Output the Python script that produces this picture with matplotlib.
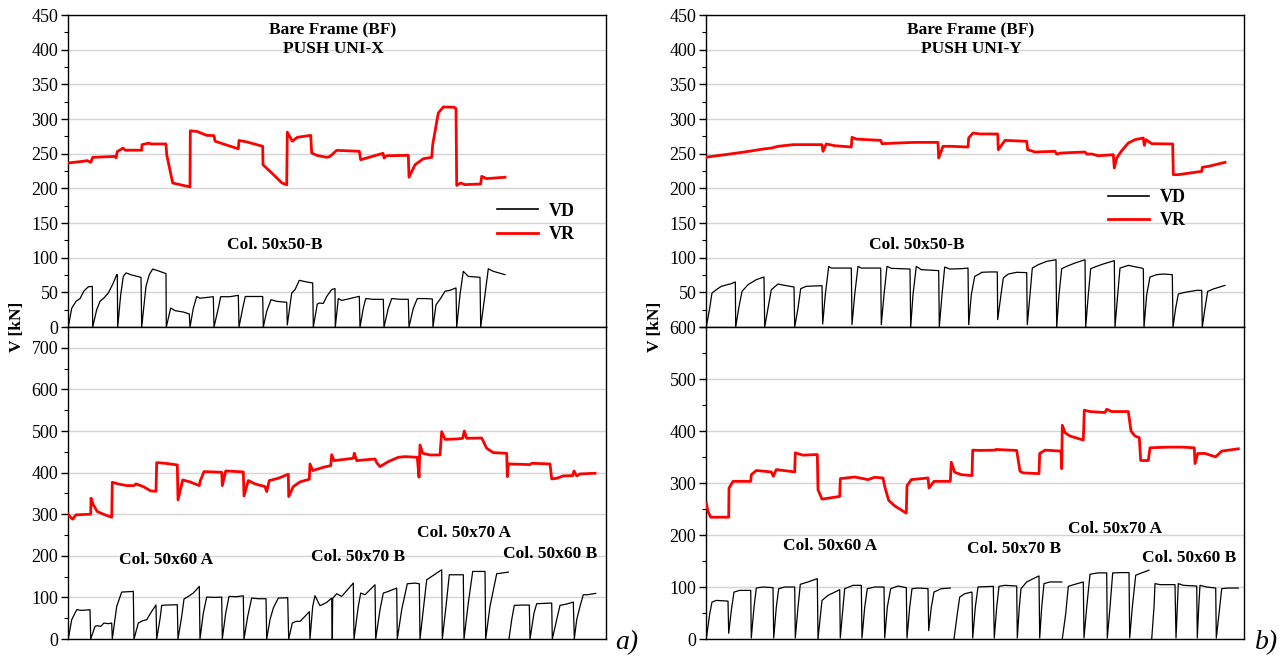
#!/usr/bin/env python3
"""
Shear demand (VD) vs shear capacity (VR) of the columns of the bare frame,
pushover along X (a) and Y (b). Writes out.png.
"""

from __future__ import annotations

import matplotlib

matplotlib.use("Agg")
import matplotlib.pyplot as plt
import numpy as np
from matplotlib.lines import Line2D
from matplotlib.ticker import FuncFormatter, MultipleLocator

NaN = float("nan")

# (step, kN) pairs.
# ---- a) PUSH UNI-X, upper plot (Col. 50x50-B)
VR_X_TOP = [
    (0, 236.5), (15, 239), (19, 240), (22.7, 237.5), (24.7, 244.7), (47, 246), (48, 244),
    (49.3, 253), (55, 258), (57.3, 255), (73.7, 255), (74, 263), (80.3, 265), (83.7, 264),
    (98, 264), (98.7, 248.5), (104.7, 207.7), (122, 202), (122.3, 283), (129, 282),
    (138.7, 276.4), (146, 276), (147, 268), (155.3, 264), (170.3, 257), (171, 269),
    (178.7, 267), (194.7, 260.6), (195, 234), (205.3, 220), (213.7, 208), (218.7, 205),
    (219.3, 281), (224.3, 268), (229.3, 273.6), (242.7, 276.4), (243.7, 251), (248.7, 247.6),
    (258.7, 244.7), (262, 246), (268.7, 254.8), (291.3, 253.4), (292.7, 241.3), (315, 250.5),
    (316, 243.8), (318.7, 247), (340.3, 247.6), (341, 216), (347, 234), (355.3, 242.7),
    (363.7, 244.7), (364.7, 263), (370.3, 308.7), (375.3, 317.3), (386, 317), (388, 315),
    (388.7, 204.3), (392.7, 207.7), (397, 205.3), (412.7, 206.3), (413.7, 217.3),
    (418.7, 214), (437, 216),
]
VD_X_TOP = [
    (0.3, 0), (3.7, 27), (8, 37), (12, 41), (16, 52), (20.3, 58), (24.3, 58.6), (24.7, 0),
    (28.7, 25), (32, 37), (36, 42), (40.3, 49), (45.3, 63.5), (48.7, 75.5), (49.3, 75.5), (49.7, 0),
    (52.7, 46.6), (55.3, 73), (58, 78), (63.7, 75), (73, 71.6), (73.7, 0),
    (78, 58.7), (81.3, 75.5), (84.7, 83.6), (90.3, 81), (98, 77), (98.3, 0),
    (102.7, 27.4), (107, 23.6), (115.3, 21.6), (121.3, 18.8), (122, 0),
    (125.3, 27), (128.7, 44), (132, 41.5), (145.3, 43.7), (146, 0),
    (150.3, 27), (152.7, 43.7), (162, 43.7), (170.3, 45.7), (171, 0),
    (174.7, 27), (177.3, 44), (194.7, 44), (195.3, 0),
    (198.7, 22.6), (203, 39.4), (208.7, 37), (218.7, 35.6), (219.3, 3),
    (223.7, 49), (227, 53.8), (231.3, 67.3), (238.7, 65), (244.7, 63.5), (245.3, 0),
    (249.3, 33), (251.3, 34.6), (255.3, 34), (258.7, 44), (263.7, 54), (267, 55.5), (267.3, 0),
    (270.3, 41), (273.7, 38.4), (278.7, 39.9), (291.3, 44.2), (292, 0),
    (295.3, 27), (297.7, 41), (305.3, 39.9), (315.3, 39.9), (316, 0),
    (320.3, 27), (323.7, 41), (332, 40), (340.3, 39.9), (341, 0),
    (345.3, 27), (349.3, 41), (357, 41), (364.3, 40.5), (365, 0),
    (368, 32), (372, 39.9), (377, 51.5), (382, 53), (388, 56.3), (388.7, 0),
    (392, 46.6), (395.3, 80.3), (400.3, 73), (412, 71.6), (412.7, 0),
    (417, 46.6), (420.3, 84), (425.3, 80.3), (437, 75.5),
]

# ---- a) PUSH UNI-X, lower plot (Col. 50x60 A / 50x70 B / 50x70 A / 50x60 B)
VR_X_BOT = [
    (0.3, 300), (2.7, 292), (4.7, 288), (8, 298.4), (22.7, 300), (23, 338.4), (25.3, 322.4),
    (29.3, 306.4), (37, 298.4), (43.7, 292.8), (44.3, 376.8), (50, 372.8), (58.7, 368.8),
    (66, 368.8), (68, 372.8), (75.3, 366.4), (82.7, 356), (88, 355), (88.7, 424),
    (97, 422.4), (109.3, 418.4), (110, 334.4), (114.7, 382.4), (122, 377.6), (131.3, 368.8),
    (132, 378.4), (136, 402.4), (153.7, 400.8), (154.3, 368.8), (157.7, 404), (175.3, 401.6),
    (176, 344), (180.3, 380.8), (187, 372.8), (197, 366.4), (198.7, 354.4), (201.3, 380.8),
    (210.3, 386.4), (220.3, 396), (220.7, 342.4), (225.3, 366.4), (232, 377.6), (241.3, 384),
    (242, 420.8), (244.7, 404.8), (255.3, 412.8), (262.7, 416.8), (263.7, 443.2), (266, 428.8),
    (285.3, 434.4), (286.3, 446.4), (288.7, 428.8), (307, 432.8), (308.7, 424), (312, 414.4),
    (320.3, 426.4), (330.3, 436.8), (337, 438.4), (349.3, 436.8), (351, 388.8), (352, 466.4),
    (354.7, 446.4), (362, 442.4), (372, 442.4), (373.7, 498.4), (377, 480), (388.7, 480.8),
    (394.7, 482.4), (396.3, 500), (398.7, 482.4), (413.7, 483.2), (418.7, 458.4),
    (425.3, 448), (438.7, 446.4), (439.3, 390.4), (440.3, 420.8), (462, 419.2),
    (463.7, 422.4), (482, 420.8), (483.7, 384.8), (488.7, 386.4), (495.3, 392), (504.7, 392.8),
    (506, 404), (508.7, 392), (512, 396.8), (527, 398.4),
]
VD_X_BOT = [
    (0.3, 0), (3.7, 46.4), (8.7, 70.4), (13.7, 68.8), (22, 70.4), (22.7, 0),
    (27, 30.4), (29.3, 32), (32.7, 30.4), (36, 38.4), (40.3, 36.8), (43.7, 38.4), (44.3, 0),
    (48.7, 78.4), (53.7, 112.8), (65.3, 114.4), (66, 0),
    (70.3, 38.4), (74.7, 44), (78.7, 46.4), (83.7, 66.4), (88, 81.6), (88.7, 0),
    (92, 48), (93.7, 80.8), (98.7, 81.6), (109.3, 82.4), (110, 0),
    (113.7, 54.4), (116, 96), (120.3, 102.4), (125.3, 110.4), (131.3, 126.4), (132, 0),
    (135.3, 62), (138.7, 100.8), (147, 100), (153.7, 100.8), (154.3, 0),
    (157.7, 62), (161, 102.4), (168.7, 101.6), (175.3, 104), (176, 0),
    (179.7, 54.4), (183.7, 98.4), (190.3, 96.8), (198, 96.8), (198.7, 0),
    (202, 46.4), (205.3, 74.4), (210.3, 98.4), (219.7, 99.2), (220.7, 0),
    (224.3, 38.4), (228, 42.4), (232, 42.4), (236.3, 52.8), (241.3, 65.6), (242, 0),
    (244.7, 78.4), (247, 104), (252, 80), (258.7, 88), (263.7, 98.4), (264.3, 0),
    (264.7, 98), (268.7, 108.8), (273.7, 102.4), (285.3, 134.4), (286, 0),
    (290.3, 78.4), (292.7, 110.4), (297, 106.4), (307, 130.4), (307.7, 0),
    (312, 70.4), (315.3, 110.4), (320.3, 114.4), (328.7, 122.4), (329.3, 0),
    (333.7, 70.4), (339.3, 132.8), (347, 134.4), (351.3, 132.8), (352, 0),
    (355.3, 70.4), (358.7, 142.4), (363.7, 150.4), (373.7, 166.4), (374.3, 0),
    (378, 78.4), (381.3, 154.4), (395.3, 154.4), (396, 0),
    (400.3, 86.4), (404.7, 162.4), (417, 162.4), (417.7, 0),
    (422, 78.4), (428.7, 156.8), (440.3, 160.8), (NaN, NaN),
    (441, 0), (443.7, 46.4), (446.3, 80.8), (453.7, 81.6), (461.3, 81.6), (462, 0),
    (466, 62.4), (468.7, 84.8), (483.7, 86.4), (484.3, 0),
    (488.7, 46.4), (492, 80.8), (498.7, 84), (505.3, 88.8), (506.3, 0),
    (508.7, 46.4), (512, 78.4), (515.3, 106.4), (519.3, 106.4), (527.7, 109.6),
]

# ---- b) PUSH UNI-Y, upper plot (Col. 50x50-B)
VR_Y_TOP = [
    (0.3, 245), (25.3, 249.8), (42, 253.2), (58.7, 257), (65.3, 258), (72, 260.6), (87, 263),
    (102, 263), (116, 263), (117, 253.4), (120.3, 264), (128.7, 261.5), (145.3, 259.6),
    (146, 273.6), (150.3, 271), (174.7, 269.2), (176, 264.4), (192, 265.4), (208.7, 266.3),
    (232, 266.3), (232.7, 243.8), (237, 260.6), (245.3, 260.6), (262, 259.6), (262.7, 272.6),
    (267, 279.8), (274, 278.4), (291.7, 278.4), (292.3, 255.8), (299, 269.2), (320.7, 267.8),
    (321.7, 255.8), (329, 252.4), (349, 253.4), (350.7, 249.5), (355.7, 251), (379, 252.4),
    (380.7, 249.5), (385.7, 249.5), (392.3, 247), (407.3, 248.5), (408.3, 229.3),
    (410.7, 243.8), (415.7, 254.3), (422.3, 265.4), (429, 270.2), (437.3, 272.6),
    (438.3, 262), (440, 270.2), (445.7, 264.4), (466.7, 264), (467.3, 219.7), (472.3, 219.7),
    (495.7, 224.5), (496.3, 230.3), (502.3, 231.7), (519, 237.5),
]
VD_Y_TOP = [
    (0.3, 0), (3.7, 27.4), (6, 49), (10.3, 53.8), (15.3, 58.7), (25.3, 62.5), (29.3, 65), (29.7, 0),
    (32.7, 27), (36, 51.4), (42, 61), (50.3, 68.3), (58, 72.1), (58.7, 0),
    (62, 27), (65.3, 53.8), (72, 62), (78.7, 60), (88, 57.7), (88.7, 0),
    (92, 27), (94.7, 55.3), (100.3, 58.7), (116, 59.6), (116.7, 4.3),
    (119.3, 46.6), (122.7, 87.5), (125.3, 85), (145.3, 85), (146, 3.4),
    (148.7, 46.6), (152, 87.5), (155.3, 85), (174.7, 85), (175.3, 3.4),
    (178, 46.6), (181, 87.5), (185.3, 84.6), (204, 83.6), (204.7, 0),
    (207, 46.6), (210.3, 87.5), (215.3, 82.7), (232.7, 81.3), (233.3, 0),
    (236, 46.6), (238.7, 86.5), (243.7, 83.6), (255.3, 84.1), (262, 85), (262.7, 3.4),
    (265.3, 46.6), (268.7, 73), (274, 77), (275.7, 78.9), (284, 79.4), (291.3, 79.4), (291.7, 10.6),
    (295, 46.6), (297.3, 70.7), (302.3, 76.4), (310.7, 78.9), (320.7, 78.4), (321.3, 3.4),
    (324, 46.6), (326.3, 85), (332.3, 89.9), (340.7, 94.7), (350, 97), (350.7, 0),
    (353, 46.6), (355.7, 84.1), (360.7, 87.5), (369, 92.3), (379, 97), (379.7, 0),
    (382.3, 46.6), (384.7, 84.1), (390.7, 87.5), (397.3, 90.9), (408.3, 95.7), (409, 0),
    (411.7, 46.6), (414, 85), (422.3, 88.9), (435.7, 85), (437.3, 84), (438, 0),
    (440.7, 46.6), (444, 72.1), (450.7, 75.5), (457.3, 76.4), (466.3, 75.5), (467, 0),
    (469.7, 27.4), (472.3, 47.6), (479, 50), (490.7, 52.9), (495.7, 52.9), (496.3, 0),
    (499, 27.4), (501.7, 51.4), (507.3, 54.8), (519, 60),
]

# ---- b) PUSH UNI-Y, lower plot
VR_Y_BOT = [
    (0.3, 261.3), (2, 245), (4.7, 234.2), (22.7, 234.2), (23, 290.3), (27, 303.2), (44.7, 303.2),
    (45.3, 316), (50.3, 324), (65.3, 321.3), (67.3, 313), (70.3, 325.8), (88.7, 321.3),
    (89.3, 358), (97, 353.5), (111.3, 354.8), (112, 287), (116, 269), (133.7, 274.2),
    (134.3, 308.4), (148.7, 311.6), (162, 306.5), (168.7, 311), (177, 309.7), (178.7, 293.5),
    (182.7, 266.5), (188.7, 256), (200.3, 242), (201, 294.8), (205.3, 306.5), (222, 309.7),
    (223, 290.3), (228, 303.2), (244.3, 303.2), (245.3, 340), (248.7, 320.6), (255.3, 316),
    (266, 314.2), (266.7, 363.2), (274, 362.6), (289, 363.2), (290, 364.5), (310.7, 362.6),
    (314, 322.6), (317.3, 319.4), (333, 318), (333.7, 356.8), (339, 363.2), (355, 361.3),
    (355.7, 327.7), (356.3, 411), (359, 396.8), (364, 390.3), (377.3, 382.6), (378.3, 440),
    (384, 437.4), (399, 435.5), (400.7, 441.9), (405.7, 437.4), (422.3, 437.4), (425, 400),
    (429, 390.3), (433.3, 387.1), (434.7, 343.2), (442.3, 343.2), (444, 367.7), (462.3, 369),
    (475.7, 369), (488.3, 367.7), (489, 337.4), (491.7, 356.8), (499, 356.8), (509.7, 350.3),
    (515.7, 361.3), (532.3, 365.8),
]
VD_Y_BOT = [
    (0.3, 0), (3.7, 48.4), (6, 71), (10.3, 74.2), (22, 72.9), (22.7, 11),
    (25.3, 54.8), (28, 90.3), (33.7, 93.5), (44.7, 93.5), (45.3, 2),
    (48, 61), (50.3, 98), (57, 100), (67, 98.7), (67.7, 2),
    (70.3, 61), (72.7, 96.8), (78.7, 100), (88.7, 100), (89.3, 2),
    (92, 61), (94.3, 105.2), (102, 109.7), (111.3, 116.1), (112, 0),
    (116, 74.2), (122, 83.9), (133.7, 94.8), (134.3, 2),
    (137, 61), (138.7, 96.8), (147, 103.2), (155.3, 103.2), (156, 2),
    (158.7, 61), (161.3, 96.8), (168.7, 100), (178, 100), (178.7, 2),
    (181.3, 61), (184.7, 96.8), (192, 101.9), (200.3, 98.7), (201, 2),
    (203.7, 61), (206, 96.8), (212, 98), (222, 96.8), (222.7, 16.1),
    (225.3, 61), (228, 90.3), (235.3, 96.8), (244.3, 98), (NaN, NaN),
    (248, 0), (251.3, 48.4), (253.7, 80.6), (258.7, 87.1), (266, 90.3), (266.7, 2),
    (269.3, 61), (272, 100), (287.3, 101.3), (288.3, 2),
    (290.7, 61), (293, 101.3), (299, 103.2), (310.7, 101.9), (311.3, 2),
    (313.3, 61), (315, 96.8), (320.7, 109.7), (327.3, 116.1), (333, 121.3), (333.7, 2),
    (335.7, 61), (338, 106.5), (344, 109.7), (355.7, 109.7), (NaN, NaN),
    (356.3, 0), (359.7, 48.4), (362.3, 101.3), (369, 105.2), (377.3, 109.7), (378, 2),
    (380.7, 61), (384, 124.5), (391.7, 127.1), (400.7, 127.1), (401.3, 2),
    (404, 61), (406.7, 127.1), (415.7, 127.7), (423, 127.7), (423.7, 2),
    (426.3, 61), (429.7, 122.6), (435.7, 127.1), (443, 132.3), (NaN, NaN),
    (445.7, 0), (448, 61), (449, 106.5), (454, 104.5), (469, 104.5), (470, 2),
    (471.3, 61), (472.3, 106.5), (477.3, 103.2), (490.7, 101.9), (491.3, 2),
    (492.7, 61), (494, 103.2), (500.7, 100), (509.7, 98), (510.3, 2),
    (513, 48.4), (515.7, 96.8), (522.3, 98), (532.3, 98),
]

SERIF = ["Liberation Serif", "DejaVu Serif"]
RED = "#ff0000"
N_STEPS = 538


def draw_panel(ax, vr, vd, ymax, major, minor):
    x, y = np.array(vd, dtype=float).T
    ax.plot(x, y, color="black", lw=0.9, zorder=3)
    x, y = np.array(vr, dtype=float).T
    ax.plot(x, y, color=RED, lw=2.0, zorder=4)
    ax.set_xlim(0, N_STEPS)
    ax.set_ylim(0, ymax)
    ax.yaxis.set_major_locator(MultipleLocator(major))
    ax.yaxis.set_minor_locator(MultipleLocator(minor))
    ax.grid(axis="y", which="major", color="#d4d4d4", lw=1.0)
    ax.set_axisbelow(True)
    ax.set_xticks([])
    ax.tick_params(axis="y", which="major", direction="out", length=5, width=1,
                   labelsize=13, pad=2)
    ax.tick_params(axis="y", which="minor", direction="out", length=3, width=0.8)
    for s in ax.spines.values():
        s.set_linewidth(1.0)


def label(ax, x, y, text):
    ax.text(x, y, text, ha="center", va="center", fontsize=12.5, fontweight="bold", zorder=5)


def add_legend(ax, x0, yc):
    handles = [Line2D([], [], color="black", lw=1.2), Line2D([], [], color=RED, lw=2.0)]
    ax.legend(handles, ["VD", "VR"], loc="center left", bbox_to_anchor=(x0, yc),
              frameon=False, borderpad=0, borderaxespad=0, handlelength=2.3,
              handletextpad=0.6, labelspacing=0.35,
              prop={"family": SERIF, "weight": "bold", "size": 13})


def main() -> None:
    plt.rcParams["font.family"] = SERIF
    fig = plt.figure(figsize=(12.88, 6.59), dpi=100)

    W, H = 1288, 659
    width = 538 / W
    h = 312 / H
    y_top, y_bot = 1 - 327 / H, 1 - 639 / H

    # a) PUSH UNI-X
    left = 68 / W
    ax1 = fig.add_axes([left, y_top, width, h])
    ax2 = fig.add_axes([left, y_bot, width, h])
    draw_panel(ax1, VR_X_TOP, VD_X_TOP, 450, 50, 25)
    draw_panel(ax2, VR_X_BOT, VD_X_BOT, 750, 100, 50)
    label(ax1, 207, 118, "Col. 50x50-B")
    label(ax2, 98, 190, "Col. 50x60 A")
    label(ax2, 290, 197, "Col. 50x70 B")
    label(ax2, 396, 255, "Col. 50x70 A")
    label(ax2, 482, 204, "Col. 50x60 B")
    ax1.text(0.4926, 0.952, "Bare Frame (BF)", transform=ax1.transAxes, ha="center",
             va="center", fontsize=12.5, fontweight="bold")
    ax1.text(0.4926, 0.891, "PUSH UNI-X", transform=ax1.transAxes, ha="center",
             va="center", fontsize=12.5, fontweight="bold")
    add_legend(ax1, 0.797, 0.334)

    # b) PUSH UNI-Y
    left = 706 / W
    ax3 = fig.add_axes([left, y_top, width, h])
    ax4 = fig.add_axes([left, y_bot, width, h])
    draw_panel(ax3, VR_Y_TOP, VD_Y_TOP, 450, 50, 25)
    draw_panel(ax4, VR_Y_BOT, VD_Y_BOT, 600, 100, 50)
    # the lower plot's "600" sits where the upper plot's "0" would be
    ax3.yaxis.set_major_formatter(FuncFormatter(lambda v, _: "" if v == 0 else f"{v:g}"))
    label(ax3, 211, 118, "Col. 50x50-B")
    label(ax4, 124, 179, "Col. 50x60 A")
    label(ax4, 308, 173, "Col. 50x70 B")
    label(ax4, 409, 211, "Col. 50x70 A")
    label(ax4, 483, 156, "Col. 50x60 B")
    ax3.text(0.4926, 0.952, "Bare Frame (BF)", transform=ax3.transAxes, ha="center",
             va="center", fontsize=12.5, fontweight="bold")
    ax3.text(0.4926, 0.891, "PUSH UNI-Y", transform=ax3.transAxes, ha="center",
             va="center", fontsize=12.5, fontweight="bold")
    add_legend(ax3, 0.747, 0.378)

    for xpix in (17, 655):
        fig.text(xpix / W, 1 - 327 / H, "V [kN]", rotation=90, ha="center", va="center",
                 fontsize=12.5, fontweight="bold")
    fig.text(627 / W, 1 - 643 / H, "a)", ha="center", va="center", fontsize=20, style="italic")
    fig.text(1267 / W, 1 - 643 / H, "b)", ha="center", va="center", fontsize=20, style="italic")

    fig.savefig("out.png", dpi=100)
    plt.close(fig)
    print("Wrote out.png")


if __name__ == "__main__":
    main()
